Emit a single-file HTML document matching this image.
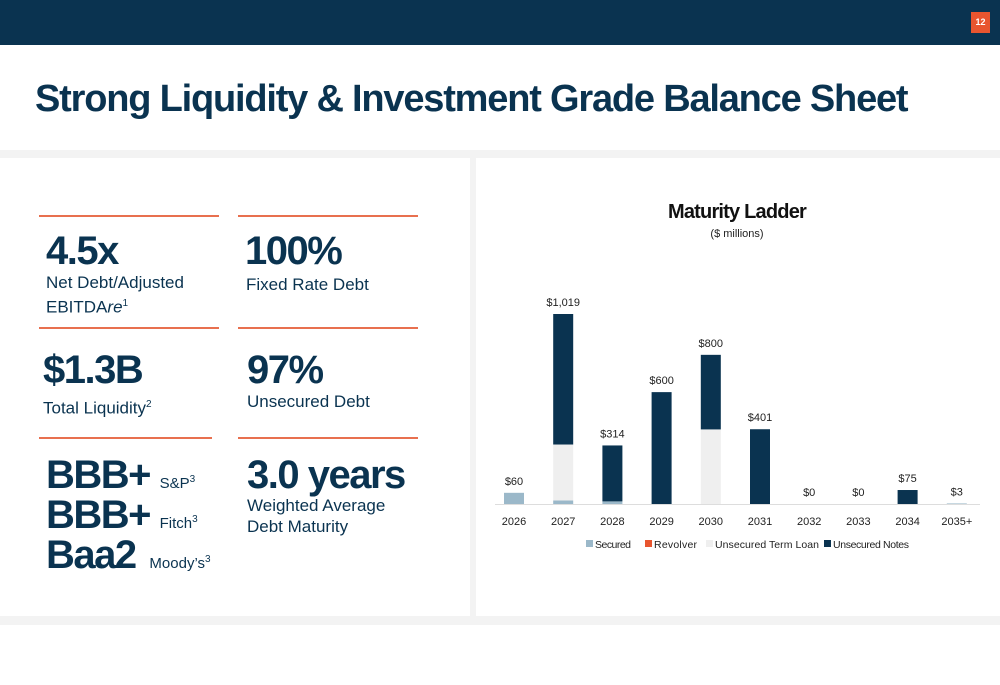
<!DOCTYPE html>
<html><head><meta charset="utf-8"><style>
*{margin:0;padding:0;box-sizing:border-box}
body{width:1000px;height:685px;background:#fff;font-family:"Liberation Sans",sans-serif;color:#0a3350;position:relative;overflow:hidden}
.hdr{position:absolute;left:0;top:0;width:1000px;height:45px;background:#0a3350}
.badge{position:absolute;left:971px;top:12px;width:19px;height:21px;background:#e8552f;color:#fff;font-size:9px;font-weight:bold;text-align:center;line-height:21px}
h1{position:absolute;left:35px;top:78px;font-size:38px;font-weight:900;letter-spacing:-1.2px;color:#0a3350}
.band{position:absolute;left:0;top:150px;width:1000px;height:475px;background:#f3f3f3}
.panel{position:absolute;background:#fff;top:158px;height:458px}
.rule{position:absolute;height:2px;background:#e8704f}
.big{position:absolute;font-size:40px;font-weight:900;letter-spacing:-1.5px;color:#0a3350;line-height:1}
.sub{position:absolute;font-size:17px;color:#0a3350;line-height:21px}
.small{font-size:15px;font-weight:normal;letter-spacing:0}
sup{font-size:10px}
</style></head><body>
<div class="hdr"></div>
<div class="badge">12</div>
<h1>Strong Liquidity &amp; Investment Grade Balance Sheet</h1>
<div class="band"></div>
<div class="panel" style="left:0;width:470px">
<div class="rule" style="left:39px;top:57px;width:180px"></div>
<div class="rule" style="left:238px;top:57px;width:180px"></div>
<div class="rule" style="left:39px;top:169px;width:180px"></div>
<div class="rule" style="left:238px;top:169px;width:180px"></div>
<div class="rule" style="left:39px;top:279px;width:173px"></div>
<div class="rule" style="left:238px;top:279px;width:180px"></div>
<div class="big" style="left:46px;top:73px">4.5x</div>
<div class="sub" style="left:46px;top:114px">Net Debt/Adjusted<br>EBITDA<i>re</i><sup>1</sup></div>
<div class="big" style="left:245px;top:73px">100%</div>
<div class="sub" style="left:246px;top:116px">Fixed Rate Debt</div>
<div class="big" style="left:43px;top:192px">$1.3B</div>
<div class="sub" style="left:43px;top:236px">Total Liquidity<sup>2</sup></div>
<div class="big" style="left:247px;top:192px">97%</div>
<div class="sub" style="left:247px;top:233px">Unsecured Debt</div>
<div class="big" style="left:46px;top:297px">BBB+ <span class="small">S&amp;P<sup>3</sup></span></div>
<div class="big" style="left:46px;top:337px">BBB+ <span class="small">Fitch<sup>3</sup></span></div>
<div class="big" style="left:46px;top:377px">Baa2 <span class="small">&nbsp;Moody’s<sup>3</sup></span></div>
<div class="big" style="left:247px;top:297px">3.0 years</div>
<div class="sub" style="left:247px;top:337px">Weighted Average<br>Debt Maturity</div>
</div>
<div class="panel" style="left:476px;width:524px"></div>
<svg id="chart" width="1000" height="685" style="position:absolute;left:0;top:0">
<text x="737" y="218" text-anchor="middle" font-size="20" font-weight="bold" fill="#111" letter-spacing="-0.8">Maturity Ladder</text>
<text x="737" y="237" text-anchor="middle" font-size="11" fill="#222">($ millions)</text>
<line x1="495" y1="504.5" x2="980" y2="504.5" stroke="#ddd"/>
</svg>
<script>
const categories=["2026","2027","2028","2029","2030","2031","2032","2033","2034","2035+"];
const secured=[60,19,14,0,0,0,0,0,0,3];
const revolver=[0,0,0,0,0,0,0,0,0,0];
const termLoan=[0,300,0,0,400,0,0,0,0,0];
const notes=[0,700,300,600,400,401,0,0,75,0];
const totalLabels=["$60","$1,019","$314","$600","$800","$401","$0","$0","$75","$3"];
const seriesNames=["Secured","Revolver","Unsecured Term Loan","Unsecured Notes"];
const colors=["#9bb8c9","#e8552f","#efefef","#0a3350"];
const svg=document.getElementById('chart');
const NS="http://www.w3.org/2000/svg";
const base=504, scale=190/1019;
const x=i=>514+i*49.2;
const y=v=>base-v*scale;
const series=[secured,revolver,termLoan,notes];
categories.forEach((c,i)=>{
  let acc=0;
  series.forEach((s,k)=>{
    const v=s[i]; if(v<=0) return;
    const r=document.createElementNS(NS,'rect');
    r.setAttribute('x',x(i)-10);r.setAttribute('width',20);
    r.setAttribute('y',y(acc+v));r.setAttribute('height',v*scale);
    r.setAttribute('fill',colors[k]);
    
    
    svg.appendChild(r);acc+=v;
  });
  const t=document.createElementNS(NS,'text');
  t.setAttribute('x',x(i));t.setAttribute('y',y(acc)-8);
  t.setAttribute('text-anchor','middle');t.setAttribute('font-size','11');t.setAttribute('fill','#222');
  t.textContent=totalLabels[i];
  
  
  svg.appendChild(t);
  const l=document.createElementNS(NS,'text');
  l.setAttribute('x',x(i));l.setAttribute('y',525);
  l.setAttribute('text-anchor','middle');l.setAttribute('font-size','11');l.setAttribute('fill','#222');
  l.textContent=c;
  
  
  svg.appendChild(l);
});
const lx=[586,645,706,824];
seriesNames.forEach((n,k)=>{
  const g=document.createElementNS(NS,'g');
  
  
  const r=document.createElementNS(NS,'rect');
  r.setAttribute('x',lx[k]);r.setAttribute('y',540);r.setAttribute('width',7);r.setAttribute('height',7);r.setAttribute('fill',colors[k]);
  g.appendChild(r);
  const t=document.createElementNS(NS,'text');
  t.setAttribute('x',lx[k]+9);t.setAttribute('y',548);t.setAttribute('font-size','10.5');t.setAttribute('fill','#222');
  t.setAttribute('textLength',k===2?'104':(k===3?'76':(k===0?'36':'43')));
  t.textContent=n;g.appendChild(t);
  svg.appendChild(g);
});
</script>
</body></html>
